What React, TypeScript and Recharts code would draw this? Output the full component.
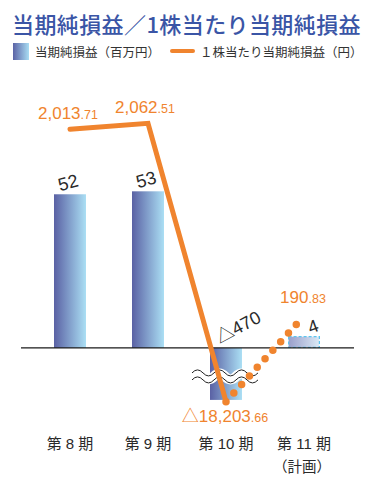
import React from 'react';
import { ComposedChart, Bar, Line, XAxis, YAxis, ReferenceLine, LabelList } from 'recharts';

const periods = ['第 8 期', '第 9 期', '第 10 期', '第 11 期'];
const periodNotes = ['', '', '', '（計画）'];

// 当期純損益（百万円）
const netIncome = [52, 53, -470, 4];
const netIncomeLabels = ['52', '53', '△470', '4'];
// heights as drawn: the axis is broken below zero
const netIncomePlot = [52, 53, -17.6, 4];

// 1株当たり当期純損益（円）
const eps = [2013.71, 2062.51, -18203.66, 190.83];
const epsLabels = ['2,013.71', '2,062.51', '△18,203.66', '190.83'];
// positions as drawn on the same (broken) scale
const epsPlot = [74, 76, -18.2, 10.8];

const ORANGE = '#f0842e';
const NUM_FONT = '"Liberation Sans", Arial, "Noto Sans CJK JP", sans-serif';
const JP_FONT = '"Noto Sans CJK JP", "Noto Sans", sans-serif';

const data = periods.map((p, i) => ({
  period: p,
  income: netIncomePlot[i],
  incomeReal: netIncome[i],
  epsReal: eps[i],
  epsActual: i < 3 ? epsPlot[i] : null,
  epsPlan: i >= 2 ? epsPlot[i] : null,
}));

const wavePath = (x0: number, x1: number, yc: number, amp: number, period: number) => {
  let d = `M${x0},${yc}`;
  let sign = -1;
  for (let x = x0; x < x1; x += period / 2) {
    d += ` Q${x + period / 4},${yc + sign * amp * 2} ${x + period / 2},${yc}`;
    sign = -sign;
  }
  return d;
};

// value label, slightly tilted as in the printed chart
const barLabel = (index: number, cx: number, top: number) => {
  let lx = cx - 2;
  let ly = top - 12;
  let angle = -15;
  if (index === 2) {
    lx = cx + 12;
    ly = top - 21;
    angle = -28;
  } else if (index === 3) {
    lx = cx + 9;
    ly = top - 10;
    angle = -20;
  }
  return (
    <g transform={`translate(${lx} ${ly})`}>
      <text x={0} y={6.5} textAnchor="middle" fontSize={18} fill="#2a2a2a" fontFamily={NUM_FONT}
        transform={`rotate(${angle})`}
        style={{ transform: `rotate(${angle}deg)`, transformOrigin: '0px 0px' }}>
        {netIncomeLabels[index]}
      </text>
    </g>
  );
};

const BarShape = (props: any) => {
  const { x, y, width, height, index } = props;
  const top = Math.min(y, y + height);
  const h = Math.abs(height);
  const cx = x + width / 2;
  if (index === 3) {
    return (
      <g>
        <rect x={x + 0.6} y={top + 0.6} width={width - 1.2} height={h - 1.2}
          fill="url(#planGrad)" stroke="#5cc4ee" strokeWidth={1.2} strokeDasharray="3 2" />
        {barLabel(index, cx, top)}
      </g>
    );
  }
  if (index === 2) {
    const x0 = x - 18;
    const x1 = x + width + 16;
    const yc = top + 28.5;
    return (
      <g>
        <rect x={x} y={top} width={width} height={h} fill="url(#barGrad)" />
        <path d={wavePath(x0, x1, yc, 3, 22)} stroke="#fff" strokeWidth={10} fill="none" />
        <path d={wavePath(x0, x1, yc - 3.5, 3, 22)} stroke="#222" strokeWidth={1} fill="none" />
        <path d={wavePath(x0, x1, yc + 3.5, 3, 22)} stroke="#222" strokeWidth={1} fill="none" />
        {barLabel(index, cx, top)}
      </g>
    );
  }
  return (
    <g>
      <rect x={x} y={top} width={width} height={h} fill="url(#barGrad)" />
      {barLabel(index, cx, top)}
    </g>
  );
};

const epsOffsets = [-16, -16, 14, -19];
const epsDx = [-2, -3, -1, -1];

const renderEpsLabel = (indices: number[]) => (p: any) => {
  const { x, y, index, value } = p;
  if (value == null || !indices.includes(index)) return null;
  const [whole, frac] = epsLabels[index].split('.');
  const lx = x + epsDx[index];
  const ly = y + epsOffsets[index] + 6;
  return (
    <text x={lx} y={ly} textAnchor="middle" fill={ORANGE} fontFamily={NUM_FONT}>
      <tspan fontSize={17}>{whole}</tspan>
      <tspan fontSize={12.5}>.{frac}</tspan>
    </text>
  );
};

const PeriodTick = (props: any) => {
  const { x, y, payload } = props;
  const i = periods.indexOf(payload.value);
  return (
    <g>
      <text x={x} y={y + 34} textAnchor="middle" fontSize={15} fill="#2a2a2a" fontFamily={NUM_FONT}>
        {payload.value}
      </text>
      {periodNotes[i] && (
        <text x={x - 2} y={y + 57} textAnchor="middle" fontSize={14.5} fill="#2a2a2a" fontFamily={JP_FONT}>
          {periodNotes[i]}
        </text>
      )}
    </g>
  );
};

export default function App() {
  return (
    <div style={{ position: 'absolute', left: 0, top: 0, width: 374, height: 493, background: '#fff', fontFamily: JP_FONT }}>
      <div style={{ position: 'absolute', left: 12, top: 12, fontSize: 22, lineHeight: '22px', color: '#3a55a6', fontWeight: 500, letterSpacing: 0.4, whiteSpace: 'nowrap' }}>
        当期純損益／1株当たり当期純損益
      </div>
      <div style={{ position: 'absolute', left: 13, top: 43, width: 16, height: 17, background: 'linear-gradient(to right, #5b63a6, #a9ddf3)' }} />
      <div style={{ position: 'absolute', left: 35, top: 44, fontSize: 12.5, lineHeight: '16px', color: '#333', whiteSpace: 'nowrap' }}>
        当期純損益（百万円）
      </div>
      <div style={{ position: 'absolute', left: 170, top: 49, width: 25, height: 4, borderRadius: 2, background: ORANGE }} />
      <div style={{ position: 'absolute', left: 200, top: 44, fontSize: 12.5, lineHeight: '16px', color: '#333', whiteSpace: 'nowrap' }}>
        １株当たり当期純損益（円）
      </div>
      <div style={{ position: 'absolute', left: 0, top: 0 }}>
        <ComposedChart width={374} height={493} data={data}
          margin={{ top: 82, right: 20, bottom: 16, left: 21 }}>
          <defs>
            <linearGradient id="barGrad" x1="0" y1="0" x2="1" y2="0">
              <stop offset="0%" stopColor="#5a61a4" />
              <stop offset="100%" stopColor="#abdff4" />
            </linearGradient>
            <linearGradient id="planGrad" x1="0" y1="0" x2="1" y2="0">
              <stop offset="0%" stopColor="#9a9fcb" />
              <stop offset="100%" stopColor="#dbe9f5" />
            </linearGradient>
          </defs>
          <XAxis dataKey="period" axisLine={false} tickLine={false} interval={0}
            height={70} padding={{ left: 10, right: 11 }} tick={<PeriodTick />} />
          <YAxis hide domain={[-20, 90]} />
          <ReferenceLine y={0} stroke="#1a1a1a" strokeWidth={1.3} />
          <Bar dataKey="income" barSize={32} shape={<BarShape />} isAnimationActive={false} />
          <Line type="linear" dataKey="epsActual" stroke={ORANGE} strokeWidth={5}
            strokeLinecap="round" strokeLinejoin="miter" dot={false} activeDot={false}
            isAnimationActive={false}>
            <LabelList dataKey="epsActual" content={renderEpsLabel([0, 1, 2])} />
          </Line>
          <Line type="linear" dataKey="epsPlan" stroke={ORANGE} strokeWidth={7.5}
            strokeLinecap="round" strokeDasharray="0 11.6" dot={false} activeDot={false}
            isAnimationActive={false}>
            <LabelList dataKey="epsPlan" content={renderEpsLabel([3])} />
          </Line>
        </ComposedChart>
      </div>
    </div>
  );
}
